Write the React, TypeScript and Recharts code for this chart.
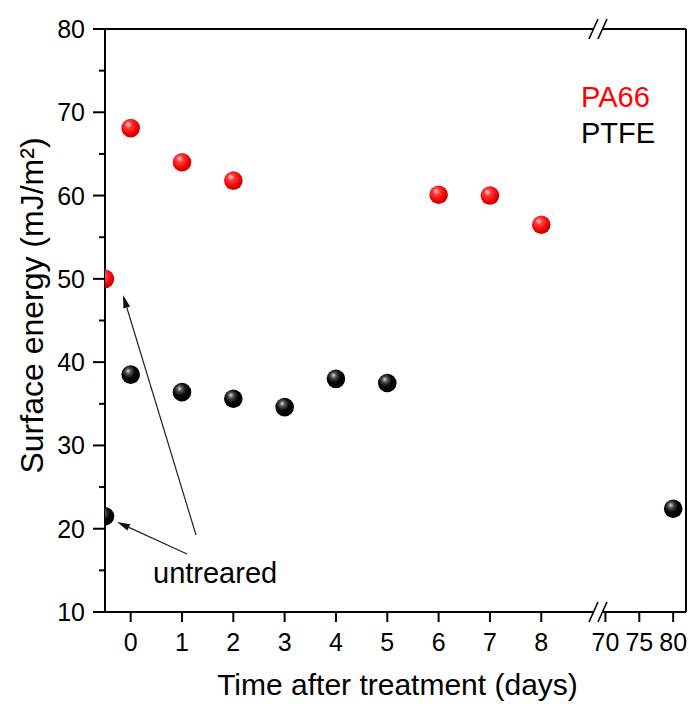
import { Legend, ReferenceDot, ReferenceLine, Scatter, ScatterChart, XAxis, YAxis } from "recharts";

// surface energy (mJ/m2)
const pa66Days = [0, 1, 2, 6, 7, 8];
const pa66Energy = [68.1, 64.0, 61.8, 60.1, 60.0, 56.5];
const ptfeDays = [0, 1, 2, 3, 4, 5, 80];
const ptfeEnergy = [38.5, 36.4, 35.6, 34.6, 38.0, 37.5, 22.4];
// untreated samples sit on the left axis
const untreatedDay = -0.5;
const pa66Untreated = 50.0;
const ptfeUntreated = 21.5;

const xTickDays = [0, 1, 2, 3, 4, 5, 6, 7, 8, 70, 75, 80];
const yTicks = [10, 15, 20, 25, 30, 35, 40, 45, 50, 55, 60, 65, 70, 75, 80];

const FONT = '"Liberation Sans", Arial, Helvetica, sans-serif';

// broken axis: 0..8 days linear, then 70..80 days squeezed after the break
const SEG2_START = 70;
const SEG2_ORIGIN = 9.25;
const SEG2_SCALE = 0.132;
const BREAK_U = 9.105;
const toU = (d: number) => (d < 20 ? d : SEG2_ORIGIN + (d - SEG2_START) * SEG2_SCALE);
const X_DOMAIN = [-0.5, 10.82];
const Y_DOMAIN = [10, 80];

const pa66Data = [
  { u: toU(untreatedDay), y: pa66Untreated },
  ...pa66Days.map((d, i) => ({ u: toU(d), y: pa66Energy[i] })),
];
const ptfeData = [
  { u: toU(untreatedDay), y: ptfeUntreated },
  ...ptfeDays.map((d, i) => ({ u: toU(d), y: ptfeEnergy[i] })),
];

const Y_TICK_SIZE = 12;
const Y_TICK_MARGIN = 8;

function YTick(props: any) {
  const { x, y, payload } = props;
  const axisX = x + Y_TICK_MARGIN + Y_TICK_SIZE;
  const major = payload.value % 10 === 0;
  return (
    <g>
      <line x1={axisX - (major ? 12 : 6)} y1={y} x2={axisX} y2={y} stroke="#000" strokeWidth={2} />
      {major && (
        <text x={x} y={y} dy="0.36em" textAnchor="end" fontSize={25} fill="#000">
          {payload.value}
        </text>
      )}
    </g>
  );
}

const ball = (id: string) => (p: any) => <circle cx={p.cx} cy={p.cy} r={9.3} fill={`url(#${id})`} />;

function Arrow(p: any) {
  const { x1, y1, x2, y2 } = p;
  const a = Math.atan2(y2 - y1, x2 - x1);
  const len = 13;
  const hw = 3.5;
  const bx = x2 - len * Math.cos(a);
  const by = y2 - len * Math.sin(a);
  const nx = -Math.sin(a) * hw;
  const ny = Math.cos(a) * hw;
  return (
    <g>
      <line x1={x1} y1={y1} x2={bx} y2={by} stroke="#222" strokeWidth={1.2} />
      <polygon points={`${x2},${y2} ${bx + nx},${by + ny} ${bx - nx},${by - ny}`} fill="#111" />
    </g>
  );
}

// "//" marks where the x axis is broken, on the bottom (10) and top (80) edges
const breakMarks = (yv: number, key: string) => {
  const dx = 0.175;
  const dy = 1.2;
  return [
    <ReferenceLine
      key={key + "gap"}
      segment={[{ x: BREAK_U - 0.09, y: yv }, { x: BREAK_U + 0.09, y: yv }]}
      stroke="#fff"
      strokeWidth={5}
      ifOverflow="visible"
      zIndex={900}
    />,
    <ReferenceLine
      key={key + "a"}
      segment={[{ x: BREAK_U - dx, y: yv - dy }, { x: BREAK_U, y: yv + dy }]}
      stroke="#000"
      strokeWidth={1.6}
      ifOverflow="visible"
      zIndex={901}
    />,
    <ReferenceLine
      key={key + "b"}
      segment={[{ x: BREAK_U, y: yv - dy }, { x: BREAK_U + dx, y: yv + dy }]}
      stroke="#000"
      strokeWidth={1.6}
      ifOverflow="visible"
      zIndex={901}
    />,
  ];
};

export default function App() {
  return (
    <div style={{ position: "absolute", left: 0, top: 0, width: 689, height: 704, background: "#fff", fontFamily: FONT }}>
      <ScatterChart width={689} height={704} margin={{ top: 29, right: 3, bottom: 0, left: 0 }}>
        <defs>
          <radialGradient id="redBall" cx="0.42" cy="0.38" r="0.62" fx="0.36" fy="0.3">
            <stop offset="0" stopColor="#ffd6d6" />
            <stop offset="0.3" stopColor="#ff3a3a" />
            <stop offset="0.75" stopColor="#f00000" />
            <stop offset="1" stopColor="#c00000" />
          </radialGradient>
          <radialGradient id="blackBall" cx="0.42" cy="0.38" r="0.62" fx="0.36" fy="0.3">
            <stop offset="0" stopColor="#d8d8d8" />
            <stop offset="0.25" stopColor="#505050" />
            <stop offset="0.55" stopColor="#080808" />
            <stop offset="1" stopColor="#000" />
          </radialGradient>
        </defs>
        <XAxis
          type="number"
          dataKey="u"
          domain={X_DOMAIN}
          allowDataOverflow
          ticks={xTickDays.map(toU)}
          interval={0}
          tickFormatter={(_v: number, i: number) => String(xTickDays[i])}
          tickSize={10}
          tickMargin={11}
          height={92}
          axisLine={{ stroke: "#000", strokeWidth: 2 }}
          tickLine={{ stroke: "#000", strokeWidth: 2 }}
          tick={{ fill: "#000", fontSize: 25 }}
          label={(p: any) => (
            <text x={p.viewBox.x + p.viewBox.width / 2 + 2} y={p.viewBox.y + 83} textAnchor="middle" fontSize={30} fill="#000">
              Time after treatment (days)
            </text>
          )}
        />
        <YAxis
          type="number"
          dataKey="y"
          domain={Y_DOMAIN}
          allowDataOverflow
          ticks={yTicks}
          interval={0}
          width={105}
          tickSize={Y_TICK_SIZE}
          tickMargin={Y_TICK_MARGIN}
          tickLine={false}
          axisLine={{ stroke: "#000", strokeWidth: 2 }}
          tick={<YTick />}
          label={(p: any) => {
            const cx = p.viewBox.x + 43;
            const cy = p.viewBox.y + p.viewBox.height / 2 - 15;
            return (
              <text x={cx} y={cy} textAnchor="middle" fontSize={32} fill="#000" transform={`rotate(-90, ${cx}, ${cy})`}>
                Surface energy (mJ/m²)
              </text>
            );
          }}
        />
        {/* top and right frame of the box */}
        <ReferenceLine y={Y_DOMAIN[1]} stroke="#000" strokeWidth={2} ifOverflow="visible" zIndex={800} />
        <ReferenceLine x={X_DOMAIN[1]} stroke="#000" strokeWidth={2} ifOverflow="visible" zIndex={800} />
        <Legend
          layout="vertical"
          align="center"
          verticalAlign="middle"
          wrapperStyle={{ top: 79, left: 581, width: 100, height: 80 }}
          content={(lp: any) => (
            <div>
              {(lp.payload || []).map((e: any) => (
                <div key={e.value} style={{ color: e.color, fontSize: 29, lineHeight: "36px", fontFamily: FONT }}>
                  {e.value}
                </div>
              ))}
            </div>
          )}
        />
        <Scatter name="PA66" data={pa66Data} fill="#ff0000" shape={ball("redBall")} isAnimationActive={false} />
        <Scatter name="PTFE" data={ptfeData} fill="#000000" shape={ball("blackBall")} isAnimationActive={false} />
        <ReferenceLine segment={[{ x: 1.273, y: 19.25 }, { x: -0.149, y: 48.06 }]} shape={<Arrow />} ifOverflow="visible" />
        <ReferenceLine segment={[{ x: 1.098, y: 16.97 }, { x: -0.266, y: 20.81 }]} shape={<Arrow />} ifOverflow="visible" />
        <ReferenceDot
          x={1.645}
          y={14.7}
          r={0}
          ifOverflow="visible"
          label={{ value: "untreared", position: "center", fontSize: 29, fill: "#000" }}
        />
        {breakMarks(10, "bottom")}
        {breakMarks(80, "top")}
      </ScatterChart>
    </div>
  );
}
